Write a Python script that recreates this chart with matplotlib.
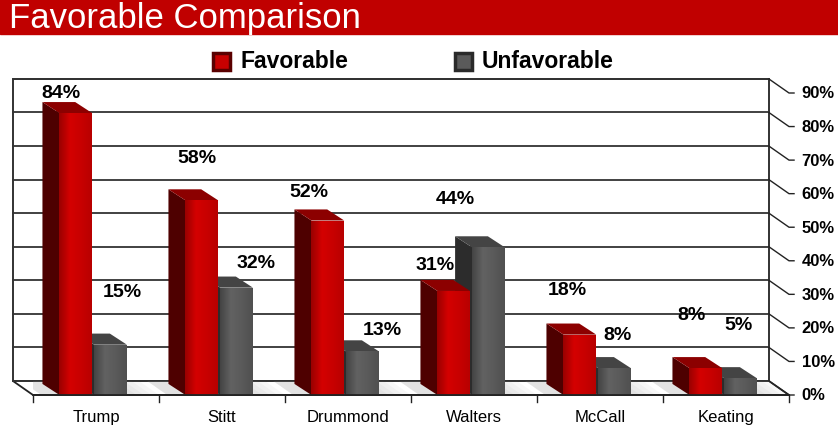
## Favorable vs Unfavorable comparison - pseudo 3D clustered bar chart
import numpy as np
import matplotlib
matplotlib.use("Agg")
import matplotlib.pyplot as plt
from matplotlib.patches import Polygon, Rectangle
from matplotlib.colors import LinearSegmentedColormap

plt.rcParams["font.family"] = ["Liberation Sans", "DejaVu Sans"]

## Data
candidates = ["Trump", "Stitt", "Drummond", "Walters", "McCall", "Keating"]
favorable = [84, 58, 52, 31, 18, 8]
unfavorable = [15, 32, 13, 44, 8, 5]
y_ticks = [0, 10, 20, 30, 40, 50, 60, 70, 80, 90]

## Where the source chart put its value labels (offset from category, height in %)
fav_label_dx = [-0.28, -0.20, -0.31, -0.31, -0.26, -0.27]
fav_label_y = [90.2, 70.8, 60.7, 39.0, 31.5, 24.1]
unf_label_dx = [0.21, 0.27, 0.27, -0.15, 0.14, 0.10]
unf_label_y = [30.7, 39.6, 19.6, 58.6, 17.9, 21.1]

## Colours
red_side, red_top = "#4E0000", "#8C0000"
gry_side, gry_top = "#2C2C2C", "#444444"
red_cmap = LinearSegmentedColormap.from_list("r", ["#9A0000", "#D40000", "#C80000", "#B80000"])
gry_cmap = LinearSegmentedColormap.from_list("g", ["#444444", "#626262", "#5A5A5A", "#505050"])

## Depth offsets (data units): back wall and bar depth
wall_dx, wall_dy = -0.16, 4.2
bar_dx, bar_dy = -0.135, 3.3
bar_w = 0.26

W, H = 838, 427
fig = plt.figure(figsize=(W / 100, H / 100), dpi=100)
fig.patch.set_facecolor("white")

## Title banner
fig.add_artist(Rectangle((0, 1 - 35 / H), 1, 35 / H, transform=fig.transFigure,
                         color="#C00000", zorder=0))
fig.text(9 / W, 1 - 28 / H, "Favorable Comparison", color="white", fontsize=25,
         va="baseline", ha="left")

## Legend (manual, to match position)
for xs, xt, lbl, fc, ec in [(213, 240, "Favorable", "#C80000", "#5A0000"),
                            (455, 482, "Unfavorable", "#5A5A5A", "#2A2A2A")]:
    fig.add_artist(Rectangle((xs / W, 1 - 71 / H), 17 / W, 17 / H,
                             transform=fig.transFigure, facecolor=fc,
                             edgecolor=ec, lw=2.5))
    fig.text(xt / W, 1 - 62 / H, lbl, fontsize=16.5, fontweight="bold",
             va="center", ha="left")

ax = fig.add_axes([33 / W, 31 / H, 756 / W, 302 / H])
ax.axis("off")

x = list(range(len(candidates)))
x0, x1 = -0.5, 5.5

## Back wall and floor
ax.add_patch(Rectangle((x0 + wall_dx, wall_dy), x1 - x0, 90, facecolor="white",
                       edgecolor="#222222", lw=1.3, zorder=1, clip_on=False))
ax.add_patch(Polygon([(x0, 0), (x1, 0), (x1 + wall_dx, wall_dy), (x0 + wall_dx, wall_dy)],
                     closed=True, facecolor="white", edgecolor="#222222", lw=1.3,
                     zorder=1, clip_on=False))
for v in y_ticks:
    ax.plot([x0 + wall_dx, x1 + wall_dx], [v + wall_dy, v + wall_dy], color="#333333",
            lw=1.3, zorder=1, clip_on=False)
    ax.plot([x1 + wall_dx, x1, x1 + 0.04], [v + wall_dy, v, v], color="#222222",
            lw=1.0, zorder=1, clip_on=False)
    ax.text(x1 + 0.1, v, f"{v}%", fontsize=12, fontweight="bold", ha="left",
            va="center", clip_on=False)

## Soft floor shadows behind each pair
for xc in x:
    for k in range(4):
        xl = xc - 0.30 + bar_dx
        xr = xc + 0.26 + 0.06 * (k + 1)
        ax.add_patch(Polygon([(xl, 0), (xr, 0), (xr + wall_dx, wall_dy), (xl + wall_dx, wall_dy)],
                             closed=True, facecolor="#808080", alpha=0.06, lw=0, zorder=1.5))

## Front floor edge and category ticks
ax.plot([x0, x1], [0, 0], color="#222222", lw=1.3, zorder=6, clip_on=False)
for b in [i - 0.5 for i in range(len(candidates) + 1)]:
    ax.plot([b, b], [0, -2.2], color="#222222", lw=1.0, clip_on=False)
for xc, name in zip(x, candidates):
    ax.text(xc, -6.3, name, fontsize=12, ha="center", va="center", clip_on=False)


def add_depth(bars, side_c, top_c, cmap, z):
    grad = np.linspace(0, 1, 64).reshape(1, -1)
    for p in bars.patches:
        bx0, bw, bh = p.get_x(), p.get_width(), p.get_height()
        ax.add_patch(Polygon([(bx0, 0), (bx0, bh), (bx0 + bar_dx, bh + bar_dy), (bx0 + bar_dx, bar_dy)],
                             closed=True, facecolor=side_c, lw=0, zorder=z))
        ax.add_patch(Polygon([(bx0, bh), (bx0 + bw, bh), (bx0 + bw + bar_dx, bh + bar_dy),
                              (bx0 + bar_dx, bh + bar_dy)],
                             closed=True, facecolor=top_c, lw=0, zorder=z))
        im = ax.imshow(grad, extent=[bx0, bx0 + bw, 0, bh], cmap=cmap, aspect="auto",
                       zorder=z + 0.2, interpolation="bilinear")
        im.set_clip_path(p)


## Unfavorable bars (behind), then favorable bars in front
gry = ax.bar([xc + 0.115 for xc in x], unfavorable, bar_w, color="#5A5A5A", zorder=3.1)
add_depth(gry, gry_side, gry_top, gry_cmap, 3.0)
red = ax.bar([xc - 0.16 for xc in x], favorable, bar_w, color="#C80000", zorder=4.1)
add_depth(red, red_side, red_top, red_cmap, 4.0)

ax.set_xlim(-0.5, 5.5)
ax.set_ylim(0, 90)

## Value labels
for xc, v, dx, ly in zip(x, favorable, fav_label_dx, fav_label_y):
    ax.text(xc + dx, ly, f"{v}%", fontsize=14, fontweight="bold", ha="center",
            va="center", zorder=7, clip_on=False)
for xc, v, dx, ly in zip(x, unfavorable, unf_label_dx, unf_label_y):
    ax.text(xc + dx, ly, f"{v}%", fontsize=14, fontweight="bold", ha="center",
            va="center", zorder=7, clip_on=False)

fig.savefig("out.png", dpi=100)
